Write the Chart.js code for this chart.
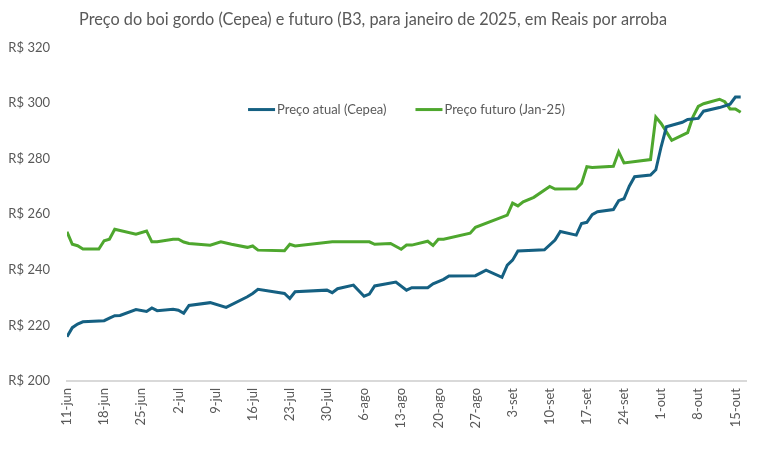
<!DOCTYPE html>
<html>
<head>
<meta charset="utf-8">
<script src="https://cdn.jsdelivr.net/npm/chart.js@4.4.1/dist/chart.umd.min.js"></script>
<style>
  html, body { margin: 0; padding: 0; background: #fff; }
  #wrap { width: 759px; height: 474px; }
</style>
</head>
<body>
<div id="wrap"><canvas id="grafico" width="759" height="474"></canvas></div>
<script>
// dias contados a partir de 11-jun-2024
const diasCepea = [0, 1, 2, 3, 7, 8, 9, 10, 13, 15, 16, 17, 20, 21, 22, 23, 27, 30, 34, 35, 36, 41, 42, 43,
    49, 50, 51, 54, 56, 57, 58, 62, 64, 65, 68, 69, 71, 72, 77, 79, 82, 83, 84, 85, 90, 92, 93, 96,
    97, 98, 99, 100, 103, 104, 105, 106, 107, 110, 111, 112, 113, 116, 117, 119, 120, 123, 125, 126, 127];
const precoCepea = [215.9, 219.2, 220.5, 221.3, 221.7, 222.6, 223.5, 223.6, 225.7, 225.0, 226.3, 225.3, 225.8, 225.5, 224.4, 227.2, 228.2, 226.5, 230.3, 231.5, 233.0, 231.5, 229.7, 232.1,
    232.7, 231.8, 233.2, 234.5, 230.5, 231.3, 234.2, 235.6, 232.7, 233.6, 233.6, 235.0, 236.6, 237.8, 237.9, 239.9, 237.3, 241.7, 243.5, 246.8, 247.2, 250.7, 253.8, 252.5,
    256.7, 257.1, 259.9, 260.9, 261.7, 264.9, 265.6, 270.1, 273.5, 274.1, 276.0, 284.3, 291.5, 293.1, 294.1, 294.5, 297.1, 298.4, 299.6, 302.2, 302.2];

const diasFuturo = [0, 1, 2, 3, 6, 7, 8, 9, 13, 15, 16, 17, 20, 21, 22, 23, 27, 29, 31, 34, 35, 36, 41, 42, 43,
    50, 57, 58, 61, 63, 64, 65, 68, 69, 70, 71, 76, 77, 83, 84, 85, 86, 88, 91, 92, 96, 97, 98, 99,
    103, 104, 105, 110, 111, 112, 114, 117, 118, 119, 120, 123, 124, 125, 126, 127];
const precoFuturo = [253.7, 249.2, 248.7, 247.5, 247.5, 250.5, 251.0, 254.6, 252.8, 254.0, 250.1, 250.1, 251.0, 251.0, 250.0, 249.5, 248.9, 250.1, 249.2, 248.1, 248.6, 247.1, 246.9, 249.2, 248.6,
    250.1, 250.1, 249.2, 249.5, 247.4, 248.9, 248.9, 250.3, 248.8, 251.0, 251.0, 253.2, 255.3, 259.7, 264.0, 263.0, 264.5, 266.1, 270.0, 269.1, 269.2, 271.1, 277.1, 276.8,
    277.3, 282.5, 278.5, 279.7, 295.0, 292.7, 286.6, 289.4, 295.1, 298.8, 299.8, 301.4, 300.5, 297.9, 297.9, 296.7];

// ticks semanais (terças-feiras)
const diasTicks = [0, 7, 14, 21, 28, 35, 42, 49, 56, 63, 70, 77, 84, 91, 98, 105, 112, 119, 126];

const meses = ['jan', 'fev', 'mar', 'abr', 'mai', 'jun', 'jul', 'ago', 'set', 'out', 'nov', 'dez'];

function rotuloData(dia) {
    const d = new Date(2024, 5, 11 + dia);
    return d.getDate() + '-' + meses[d.getMonth()];
}

function pontos(dias, precos) {
    return dias.map((d, i) => ({ x: d, y: precos[i] }));
}

const cinza = '#595959';
const fonte = 'Lato, "Liberation Sans", sans-serif';

// legenda desenhada dentro da área do gráfico
const legendaInterna = {
    id: 'legendaInterna',
    afterDraw(chart) {
        const ctx = chart.ctx;
        const area = chart.chartArea;
        const y = area.top + 62;
        ctx.save();
        ctx.font = '13px ' + fonte;
        const itens = chart.data.datasets.map(ds => ({
            texto: ds.label, cor: ds.borderColor, w: 29 + ctx.measureText(ds.label).width
        }));
        const gap = 29;
        const total = itens.reduce((s, it) => s + it.w, 0) + gap * (itens.length - 1);
        let x = (area.left + area.right) / 2 - total / 2;
        itens.forEach(it => {
            ctx.strokeStyle = it.cor;
            ctx.lineWidth = 3;
            ctx.beginPath();
            ctx.moveTo(x, y);
            ctx.lineTo(x + 27, y);
            ctx.stroke();
            ctx.fillStyle = cinza;
            ctx.textBaseline = 'middle';
            ctx.fillText(it.texto, x + 29, y);
            x += it.w + gap;
        });
        ctx.restore();
    }
};

new Chart(document.getElementById('grafico'), {
    type: 'line',
    data: {
        datasets: [{
            label: 'Preço atual (Cepea)',
            data: pontos(diasCepea, precoCepea),
            borderColor: '#156082',
            borderWidth: 3,
            pointRadius: 0,
            tension: 0
        }, {
            label: 'Preço futuro (Jan-25)',
            data: pontos(diasFuturo, precoFuturo),
            borderColor: '#4EA72E',
            borderWidth: 3,
            pointRadius: 0,
            tension: 0
        }]
    },
    options: {
        responsive: false,
        animation: false,
        layout: { padding: { left: 0, right: 13, top: 0, bottom: 0 } },
        plugins: {
            legend: { display: false },
            tooltip: { enabled: false },
            title: {
                display: true,
                text: 'Preço do boi gordo (Cepea) e futuro (B3, para janeiro de 2025, em Reais por arroba',
                color: cinza,
                font: { family: fonte, size: 16.3, weight: 'normal' },
                padding: { top: 10, bottom: 18 }
            }
        },
        scales: {
            x: {
                type: 'linear',
                min: 0,
                max: 128,
                afterBuildTicks: s => { s.ticks = diasTicks.map(v => ({ value: v })); },
                afterFit: s => { s.height = 93; },
                grid: { display: false, drawTicks: false, tickLength: 0 },
                border: { display: true, color: '#d9d9d9', width: 2 },
                ticks: {
                    autoSkip: false,
                    minRotation: 90,
                    maxRotation: 90,
                    padding: 7,
                    color: cinza,
                    font: { family: fonte, size: 13 },
                    callback: v => rotuloData(v)
                }
            },
            y: {
                min: 200,
                max: 320,
                afterFit: s => { s.width = 67; },
                grid: { display: false, drawTicks: false, tickLength: 0 },
                border: { display: false },
                ticks: {
                    stepSize: 20,
                    padding: 17,
                    color: cinza,
                    font: { family: fonte, size: 13 },
                    callback: v => 'R$ ' + v
                }
            }
        }
    },
    plugins: [legendaInterna]
});
</script>
</body>
</html>
